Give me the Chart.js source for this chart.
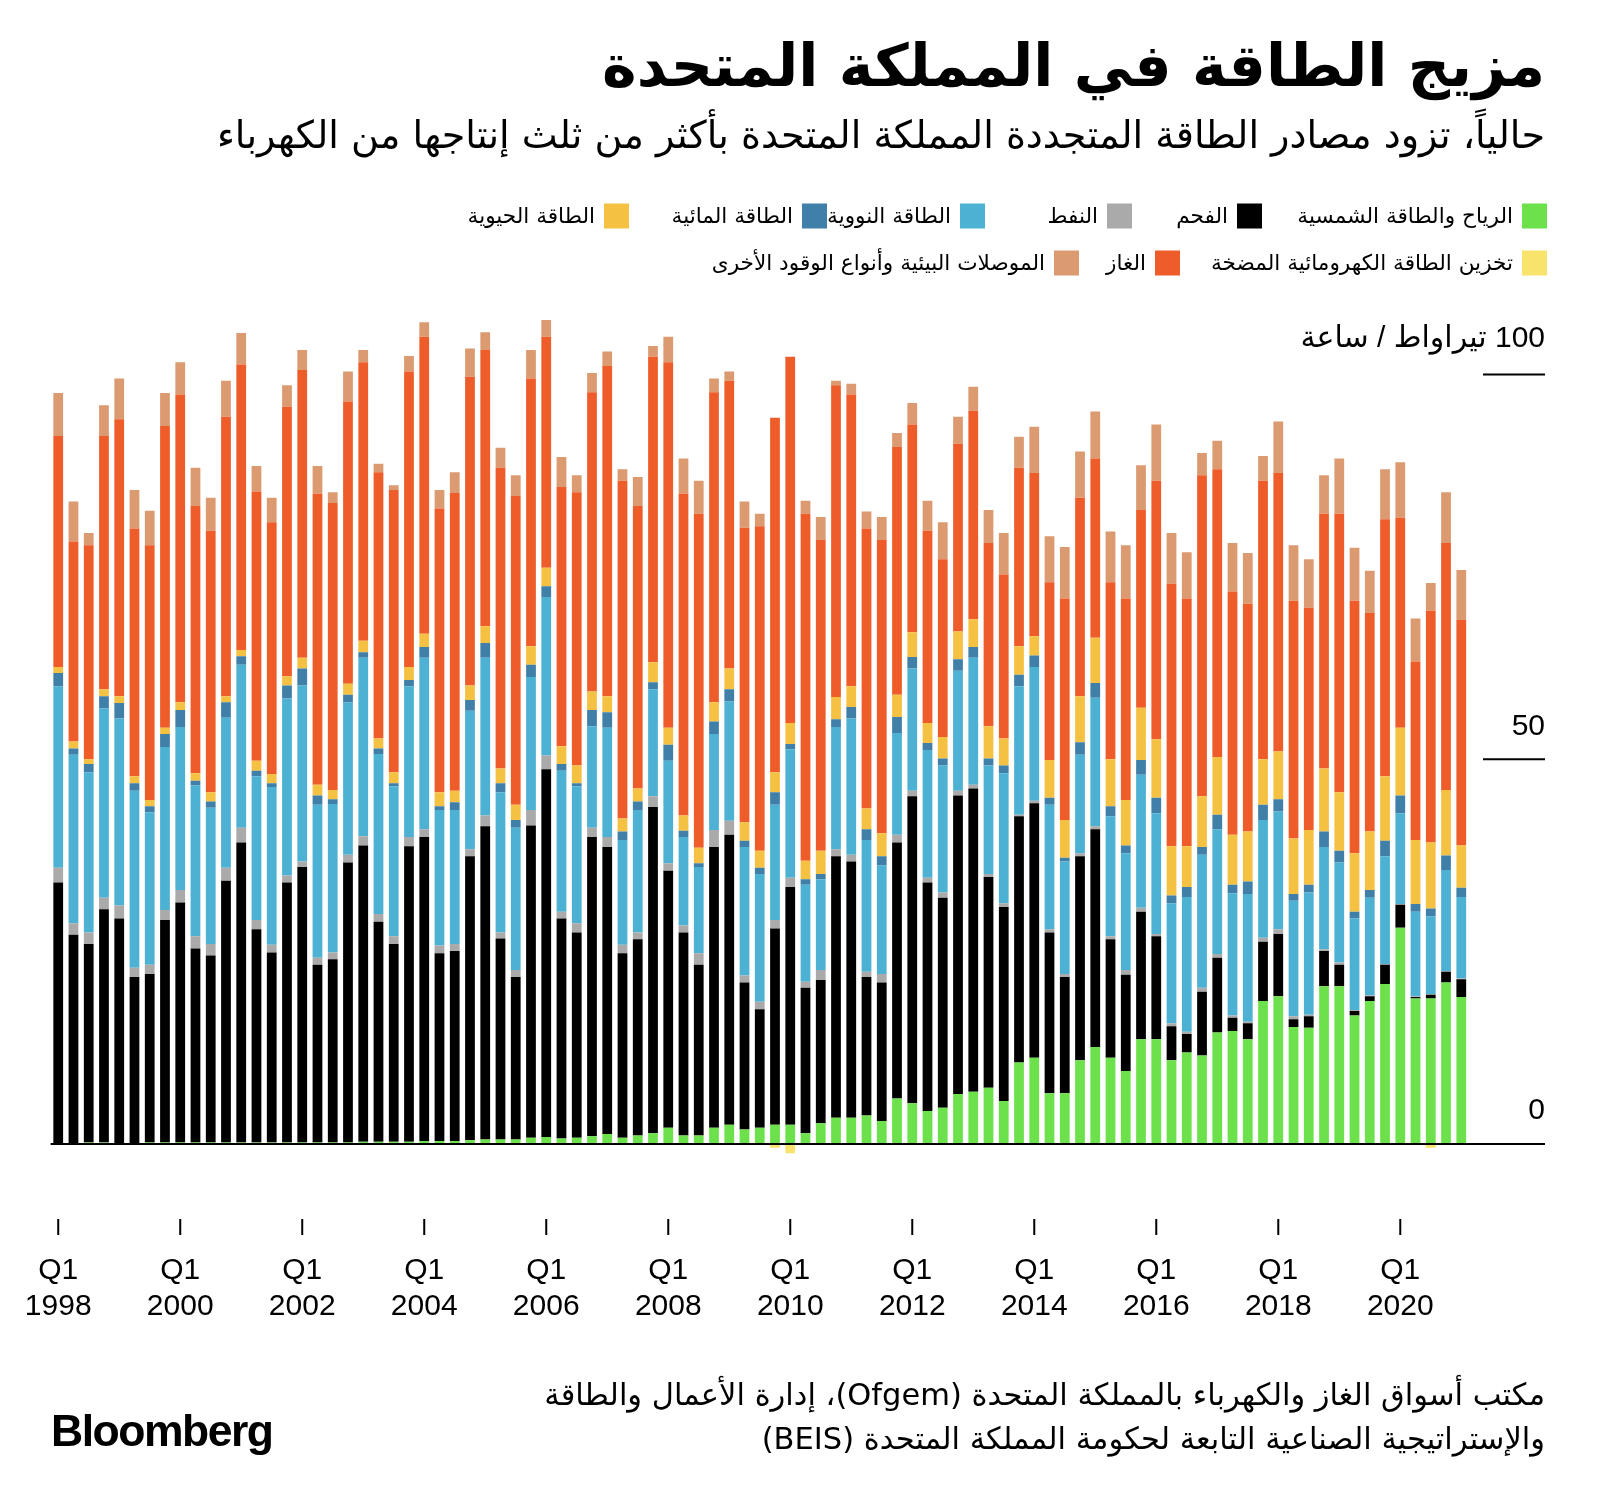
<!DOCTYPE html>
<html lang="ar">
<head>
<meta charset="utf-8">
<title>مزيج الطاقة في المملكة المتحدة</title>
<script src="https://cdn.jsdelivr.net/npm/chart.js@4.4.1/dist/chart.umd.min.js"></script>
<style>
  html, body { margin: 0; padding: 0; background: #fff; }
  #page { position: relative; width: 1600px; height: 1509px; overflow: hidden;
          font-family: "DejaVu Sans", sans-serif; color: #000; }
  #chart { position: absolute; left: 0; top: 0; }
  .t { position: absolute; white-space: nowrap; line-height: 1.2; transform: translateY(-50%); }
  .rtl { direction: rtl; }
  .sw { position: absolute; width: 25px; height: 25px; transform: translateY(-50%); }
  .lg { font-size: 21.6px; }
</style>
</head>
<body>
<div id="page">
  <canvas id="chart" width="1600" height="1509"></canvas>

  <div class="t rtl" id="title" style="right:55px;top:66px;font-size:58px;font-weight:bold">مزيج الطاقة في المملكة المتحدة</div>
  <div class="t rtl" id="subtitle" style="right:55px;top:136px;font-size:32px">حالياً، تزود مصادر الطاقة المتجددة المملكة المتحدة بأكثر من ثلث إنتاجها من الكهرباء</div>

  <div id="legend"></div>

  <div class="t rtl" id="src1" style="right:55px;top:1395px;font-size:29px">مكتب أسواق الغاز والكهرباء بالمملكة المتحدة (Ofgem)، إدارة الأعمال والطاقة</div>
  <div class="t rtl" id="src2" style="right:55px;top:1439px;font-size:29px">والإستراتيجية الصناعية التابعة لحكومة المملكة المتحدة (BEIS)</div>
  <div class="t" id="logo" style="left:51px;top:1431px;font-family:'Liberation Sans',Arial,sans-serif;font-weight:bold;font-size:40px;letter-spacing:-1.5px">Bloomberg</div>
</div>

<script>
// ── Data (TWh per quarter, Q1 1998 – Q1 2021) ──
const startYear = 1998;
const quarters = [];
for (let i = 0; i < 93; i++) quarters.push((startYear + Math.floor(i / 4)) + ' Q' + (i % 4 + 1));

const windSolar = [
  0.1,0.1,0.2,0.2,0.1,0.1,0.2,0.2,0.2,0.2,0.2,0.2,
  0.2,0.2,0.2,0.2,0.2,0.2,0.2,0.2,0.3,0.3,0.3,0.3,
  0.4,0.4,0.4,0.5,0.6,0.6,0.6,0.8,0.9,0.7,0.8,1.0,
  1.3,0.8,1.1,1.4,2.1,1.1,1.1,2.1,2.5,1.9,2.1,2.5,
  2.5,1.4,2.7,3.4,3.4,3.7,3.0,5.9,5.3,4.3,4.7,6.5,
  6.8,7.3,5.6,10.6,11.2,6.6,6.6,10.9,12.6,11.2,9.5,13.6,
  13.6,10.9,11.9,11.5,14.5,14.7,13.6,18.6,19.2,15.2,15.1,20.5,
  20.5,16.7,18.6,20.8,28.1,18.9,18.9,21.0,19.1
];
const coal = [
  33.9,27.1,25.8,30.3,29.2,21.6,21.9,28.9,31.2,25.2,24.3,34.0,
  39.0,27.7,24.7,33.8,35.8,23.1,23.8,36.4,38.5,28.6,25.7,38.4,
  39.5,24.4,24.7,36.9,40.7,26.1,21.1,40.6,47.8,28.6,26.7,38.9,
  37.3,24.0,25.5,42.4,33.4,26.4,22.2,36.5,37.7,19.1,15.4,25.5,
  30.9,18.9,18.6,34.0,33.3,18.0,18.0,33.3,39.9,29.7,27.3,38.8,
  39.4,27.4,25.2,32.0,33.1,20.9,15.1,26.5,28.3,15.4,12.5,16.6,
  13.4,4.4,2.4,8.3,9.7,1.7,2.1,7.7,8.1,1.0,1.5,4.6,
  2.8,0.6,0.6,2.5,3.0,0.2,0.5,1.4,2.3
];
const oil = [
  1.9,1.5,1.5,1.5,1.7,1.2,1.2,1.3,1.6,1.6,1.5,1.7,
  1.9,1.2,1.0,0.9,0.7,0.9,0.9,1.0,1.2,1.0,1.0,1.2,
  1.0,1.0,0.9,0.9,1.4,0.8,0.9,2.0,1.8,0.9,1.2,1.2,
  1.3,1.1,0.9,1.4,1.0,0.9,1.5,2.2,1.8,0.9,1.0,1.1,
  1.2,0.8,1.3,0.9,0.9,0.7,1.1,1.0,0.7,0.6,0.7,0.6,
  0.5,0.4,0.5,0.2,0.3,0.4,0.4,0.4,0.4,0.4,0.6,0.5,
  0.3,0.4,0.3,0.5,0.5,0.3,0.2,0.5,0.6,0.4,0.2,0.2,
  0.3,0.1,0.1,0.1,0.1,0.1,0.1,0.1,0.1
];
const nuclear = [
  23.6,21.9,20.8,24.6,24.3,23.0,19.8,21.2,21.2,19.6,17.7,19.5,
  21.2,18.7,20.5,23.0,22.9,19.9,19.3,19.8,23.2,20.8,19.5,19.6,
  22.3,17.6,17.4,18.0,20.5,18.2,18.5,17.3,20.6,18.3,17.8,13.2,
  14.2,13.6,15.9,13.9,13.3,11.5,11.2,12.5,15.5,16.7,16.6,15.0,
  16.7,12.6,11.8,15.9,17.7,17.1,14.1,13.2,15.9,16.6,16.5,15.6,
  16.5,14.1,16.9,16.7,17.4,16.2,14.6,12.8,16.7,15.6,15.2,17.3,
  15.7,15.6,17.5,17.3,16.2,15.9,16.6,15.3,15.3,15.0,15.9,13.3,
  13.0,11.9,12.7,14.0,11.8,11.0,10.1,13.1,10.6
];
const hydro = [
  1.7,0.8,1.1,1.6,2.0,1.0,0.8,1.7,2.2,0.6,0.8,2.0,
  1.1,0.7,0.5,1.7,2.2,1.2,0.6,1.0,0.7,0.7,0.4,0.8,
  1.4,0.5,1.0,1.4,1.9,1.2,1.0,1.6,1.4,0.9,0.4,2.1,
  2.0,1.1,1.1,0.9,2.1,0.8,0.5,1.6,1.6,0.8,0.8,1.6,
  0.7,0.7,0.7,1.0,1.5,1.4,1.2,2.1,1.5,0.9,0.9,1.5,
  1.4,0.9,1.0,1.5,1.5,0.9,0.5,1.6,1.9,1.3,1.0,1.9,
  2.0,1.0,1.3,1.0,1.9,1.1,1.6,2.0,1.6,0.9,1.0,2.0,
  1.5,0.9,1.0,2.0,2.3,1.0,1.0,1.9,1.2
];
const bioenergy = [
  0.8,0.9,0.6,0.9,0.9,0.9,0.8,0.8,1.0,1.0,1.2,0.8,
  0.8,1.3,1.2,1.2,1.4,1.4,1.2,1.4,1.5,1.3,1.4,1.7,
  1.7,1.8,1.5,1.9,2.2,1.9,2.0,2.4,2.4,2.3,2.3,2.4,
  2.1,1.7,1.7,2.6,2.2,2.0,2.0,2.5,2.7,2.4,2.2,2.6,
  2.7,2.4,3.0,2.9,2.7,2.7,3.0,2.9,3.2,2.6,2.8,3.6,
  3.6,4.2,3.5,3.7,2.5,4.9,4.9,6.0,5.9,6.1,5.9,6.8,
  7.6,6.4,5.3,6.6,7.5,6.5,6.5,5.9,6.2,7.2,7.1,8.2,
  7.6,7.6,7.6,8.4,8.8,8.3,8.6,8.5,5.5
];
const pumpedStorage = [
  0,0,0,0,0,0,0,0,0,0,0,0,
  0,0,0,0,0,0,0,0,0,0,0,0,
  0,0,0,0,0,0,0,0,0,0,0,0,
  0,0,0,0,0,0,0,0,0,0,0,-0.5,
  -1.2,0,0,0,0,0,0,0,0,0,0,0,
  0,0,0,0,0,0,0,0,0,0,0,0,
  0,0,0,0,0,0,0,0,0,0,0,0,
  0,0,0,0,0,0,-0.5,0,0
];
const gas = [
  30.0,26.0,27.8,32.9,36.0,32.2,33.1,39.2,40.0,34.7,34.0,36.3,
  37.1,35.0,32.7,35.0,37.4,37.8,37.3,36.7,36.2,34.6,36.7,38.4,
  38.6,36.9,38.7,40.1,35.9,39.1,40.1,34.8,30.0,33.7,35.5,38.9,
  42.9,43.9,36.7,39.7,47.5,41.8,43.4,40.3,37.4,38.3,42.2,46.1,
  47.6,45.1,40.4,40.5,37.9,36.4,38.1,32.2,27.0,25.0,23.1,24.4,
  27.1,23.8,21.3,23.2,21.2,23.1,28.8,25.8,23.3,23.0,26.2,25.7,
  33.6,34.1,32.2,41.7,37.4,31.6,29.6,36.2,36.2,30.9,28.9,33.1,
  36.2,32.8,28.4,33.4,27.3,23.2,30.1,32.1,29.3
];
const interconnectorsOther = [
  5.6,5.2,1.6,4.0,5.3,5.0,4.5,4.3,4.2,5.0,4.3,4.7,
  4.1,3.3,3.2,2.8,2.6,3.6,1.4,3.9,1.6,1.1,0.6,2.0,
  1.9,2.4,2.7,3.7,2.3,2.6,2.7,3.7,2.2,3.9,2.2,2.5,
  1.9,1.5,3.8,1.4,3.3,4.6,4.3,1.8,1.2,3.4,1.6,0,
  0,1.7,3.0,0.6,1.4,2.2,3.0,1.8,2.8,3.9,4.8,3.5,
  3.1,4.3,5.4,4.0,6.0,6.0,6.7,6.0,6.1,6.6,6.9,5.8,
  7.3,6.6,6.0,2.9,3.7,6.3,6.6,3.2,6.7,7.2,6.3,5.0,
  7.2,6.9,5.5,6.5,7.2,5.6,3.6,6.6,6.5
];

const seriesNames = [
  'الرياح والطاقة الشمسية', 'الفحم', 'النفط', 'الطاقة النووية', 'الطاقة المائية',
  'الطاقة الحيوية', 'تخزين الطاقة الكهرومائية المضخة', 'الغاز',
  'الموصلات البيئية وأنواع الوقود الأخرى'
];
const seriesColors = ['#6ce14c','#000000','#aaaaaa','#4db1d3','#3f7fa8','#f5c143','#f8e36c','#ee5c2a','#dc9a71'];
const seriesData = [windSolar, coal, oil, nuclear, hydro, bioenergy, pumpedStorage, gas, interconnectorsOther];

const yTicks = [0, 50, 100];
const yUnit = 'تيراواط / ساعة';
const xTickYears = ['1998','2000','2002','2004','2006','2008','2010','2012','2014','2016','2018','2020'];
const xTickQuarter = 'Q1';

// ── Legend (RTL, two rows) ──
// [series index, swatch left, row centre y]
const legendLayout = [
  [0, 1522, 216], [1, 1237, 216], [2, 1107, 216], [3, 960, 216], [4, 802, 216], [5, 604, 216],
  [6, 1522, 263], [7, 1155, 263], [8, 1054, 263]
];
const legendEl = document.getElementById('legend');
legendLayout.forEach(([k, left, cy]) => {
  const sw = document.createElement('div');
  sw.className = 'sw';
  sw.style.cssText = `left:${left}px;top:${cy}px;background:${seriesColors[k]}`;
  legendEl.appendChild(sw);
  const tx = document.createElement('div');
  tx.className = 't rtl lg';
  tx.style.cssText = `right:${1600 - left + 9}px;top:${cy}px`;
  tx.textContent = seriesNames[k];
  legendEl.appendChild(tx);
});

// fit header / footer text to the reference widths
function fitWidth(id, target) {
  const el = document.getElementById(id);
  const w = el.getBoundingClientRect().width;
  const fs = parseFloat(getComputedStyle(el).fontSize);
  el.style.fontSize = (fs * target / w).toFixed(2) + 'px';
  return fs * target / w;
}
fitWidth('title', 943);
fitWidth('subtitle', 1328);
const srcSize = fitWidth('src1', 1001);
document.getElementById('src2').style.fontSize = srcSize.toFixed(2) + 'px';
fitWidth('logo', 220);

// ── Axes drawn from the chart's scales ──
const AXIS_RIGHT = 1545;
const axesPlugin = {
  id: 'bbgAxes',
  afterDatasetsDraw(chart) {
    const { ctx, chartArea, scales: { x, y } } = chart;
    const y0 = y.getPixelForValue(0);
    ctx.save();
    ctx.strokeStyle = '#000';
    ctx.fillStyle = '#000';
    ctx.lineWidth = 2;

    // zero line
    ctx.beginPath();
    ctx.moveTo(chartArea.left, y0);
    ctx.lineTo(AXIS_RIGHT, y0);
    ctx.stroke();

    // y ticks + labels
    ctx.font = '30px "Liberation Sans", "DejaVu Sans", sans-serif';
    ctx.textAlign = 'right';
    ctx.textBaseline = 'middle';
    ctx.direction = 'rtl';
    yTicks.forEach(v => {
      const py = y.getPixelForValue(v);
      const top = v === yTicks[yTicks.length - 1];
      if (v !== 0) {
        ctx.beginPath();
        ctx.moveTo(AXIS_RIGHT - 62, py);
        ctx.lineTo(AXIS_RIGHT, py);
        ctx.stroke();
      }
      const label = top ? v + ' ' + yUnit : String(v);
      ctx.fillText(label, AXIS_RIGHT, py - (top ? 36 : 33));
    });

    // x ticks + labels
    ctx.direction = 'ltr';
    ctx.textAlign = 'center';
    xTickYears.forEach(yr => {
      const idx = quarters.indexOf(yr + ' Q1');
      const px = x.getPixelForValue(idx);
      ctx.beginPath();
      ctx.moveTo(px, y0 + 75);
      ctx.lineTo(px, y0 + 91);
      ctx.stroke();
      ctx.fillText(xTickQuarter, px, y0 + 127);
      ctx.fillText(yr, px, y0 + 163);
    });
    ctx.restore();
  }
};

new Chart(document.getElementById('chart'), {
  type: 'bar',
  data: {
    labels: quarters,
    datasets: seriesData.map((d, k) => ({
      label: seriesNames[k],
      data: d,
      backgroundColor: seriesColors[k],
      borderWidth: 0,
      barPercentage: 0.64,
      categoryPercentage: 1.0
    }))
  },
  options: {
    responsive: false,
    animation: false,
    layout: { padding: { left: 50.6, right: 131.1, top: 297.6, bottom: 349.6 } },
    plugins: { legend: { display: false }, tooltip: { enabled: false } },
    scales: {
      x: { stacked: true, display: false },
      y: { stacked: true, display: false, min: -2, max: 110 }
    }
  },
  plugins: [axesPlugin]
});
</script>
</body>
</html>
